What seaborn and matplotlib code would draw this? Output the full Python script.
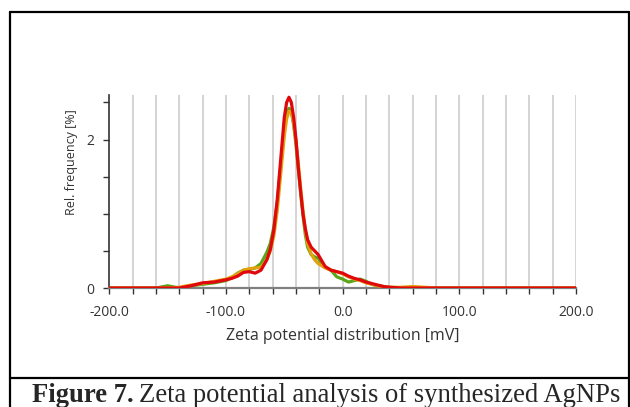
import numpy as np
import pandas as pd
import matplotlib.pyplot as plt
from matplotlib.lines import Line2D
import seaborn as sns

# zeta potential [mV]
zeta = [-200, -160, -150, -140, -130, -120, -110, -100, -95, -90, -85, -80, -75, -70,
        -65, -62, -59, -56, -53, -50, -48, -46, -44, -42, -40, -38, -36, -34, -32, -30,
        -27, -24, -21, -18, -15, -10, -5, 0, 5, 10, 15, 20, 25, 30, 35, 40, 50, 60, 70, 80, 200]

# relative frequency [%] for three measurements
freq_green = [0, 0, 0.03, 0, 0.03, 0.05, 0.07, 0.10, 0.14, 0.20, 0.24, 0.25, 0.27, 0.33,
              0.48, 0.60, 0.82, 1.15, 1.65, 2.15, 2.35, 2.42, 2.38, 2.20, 1.93, 1.60, 1.28, 0.98, 0.72, 0.55,
              0.45, 0.42, 0.40, 0.33, 0.28, 0.24, 0.15, 0.12, 0.08, 0.10, 0.12, 0.09, 0.05, 0.03, 0.02, 0.01, 0, 0, 0, 0, 0]
freq_orange = [0, 0, 0, 0.01, 0.04, 0.06, 0.09, 0.12, 0.15, 0.19, 0.24, 0.26, 0.27, 0.28,
               0.38, 0.50, 0.70, 1.05, 1.55, 2.05, 2.28, 2.38, 2.37, 2.22, 1.98, 1.68, 1.35, 1.05, 0.78, 0.60,
               0.46, 0.38, 0.33, 0.30, 0.27, 0.24, 0.22, 0.19, 0.15, 0.12, 0.10, 0.07, 0.05, 0.03, 0.02, 0.01, 0.01, 0.02, 0.01, 0, 0]
freq_red = [0, 0, 0, 0, 0.03, 0.07, 0.08, 0.11, 0.13, 0.16, 0.21, 0.22, 0.20, 0.24,
            0.38, 0.52, 0.78, 1.20, 1.75, 2.30, 2.50, 2.57, 2.50, 2.30, 2.00, 1.62, 1.30, 1.00, 0.80, 0.65,
            0.55, 0.50, 0.45, 0.37, 0.29, 0.24, 0.22, 0.20, 0.16, 0.13, 0.11, 0.08, 0.06, 0.04, 0.02, 0.01, 0, 0, 0, 0, 0]

df = pd.DataFrame({
    'zeta': zeta * 3,
    'freq': freq_green + freq_orange + freq_red,
    'run': ['green'] * len(zeta) + ['orange'] * len(zeta) + ['red'] * len(zeta),
})
colors = {'green': '#5aa61a', 'orange': '#e3a20c', 'red': '#e0080c'}

sns.set_style('white')
plt.rcParams['font.family'] = ['Open Sans', 'DejaVu Sans']

fig = plt.figure(figsize=(6.3, 4.07), dpi=100)
W, H = 630, 407
ax = fig.add_axes([109.3 / W, (H - 288) / H, (576 - 109.3) / W, (288 - 95) / H])

# vertical grid lines
for gx in range(-180, 201, 20):
    ax.axvline(gx, color='#d4d4d4', lw=1.4, zorder=0)

sns.lineplot(data=df, x='zeta', y='freq', hue='run', palette=colors, lw=2.3,
             legend=False, ax=ax, zorder=3)

ax.set_xlim(-200, 200)
ax.set_ylim(0, 2.6)
ax.set_xticks(range(-200, 201, 20))
ax.set_xticklabels([f'{v:.1f}' if v % 100 == 0 else '' for v in range(-200, 201, 20)])
ax.set_yticks([0, 0.5, 1, 1.5, 2, 2.5])
ax.set_yticklabels(['0', '', '', '', '2', ''])
ax.tick_params(axis='x', direction='out', length=4, width=1, color='#333333', pad=8,
               labelsize=10, labelcolor='#333333', bottom=True)
ax.tick_params(axis='y', direction='out', length=4, width=1, color='#333333', pad=7,
               labelsize=10, labelcolor='#333333', left=True)
ax.set_xlabel('Zeta potential distribution [mV]', fontsize=11.5, color='#333333', labelpad=6)
ax.set_ylabel('Rel. frequency [%]', fontsize=9, color='#333333')
ax.yaxis.set_label_coords(-0.066, 0.65)

for s in ['top', 'right']:
    ax.spines[s].set_visible(False)
ax.spines['left'].set_color('#333333')
ax.spines['left'].set_linewidth(1.2)
ax.spines['bottom'].set_color('#808080')
ax.spines['bottom'].set_linewidth(1.6)

# figure frame
frame_kw = dict(color='black', lw=1.6, transform=fig.transFigure)
fig.add_artist(Line2D([10 / W, 10 / W], [0, 1 - 12 / H], **frame_kw))
fig.add_artist(Line2D([10 / W, 629 / W], [1 - 12 / H, 1 - 12 / H], **frame_kw))
fig.add_artist(Line2D([629 / W, 629 / W], [0, 1 - 12 / H], **frame_kw))
fig.add_artist(Line2D([10 / W, 629 / W], [1 - 378 / H, 1 - 378 / H], **frame_kw))

# caption
cap_y = 1 - 402 / H
t1 = fig.text(32 / W, cap_y, 'Figure 7.', family='Liberation Serif', weight='bold',
              fontsize=19.2, va='baseline', ha='left')
fig.canvas.draw()
bb = t1.get_window_extent()
fig.text(bb.x1 / W + 5 / W, cap_y, 'Zeta potential analysis of synthesized AgNPs',
         family='Liberation Serif', fontsize=19.2, va='baseline', ha='left')

fig.savefig('out.png', dpi=100)
